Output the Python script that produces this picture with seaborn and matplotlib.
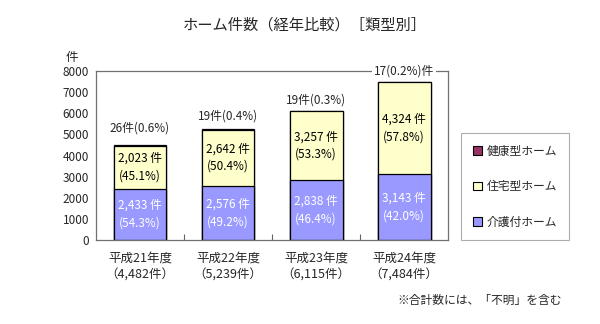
import matplotlib
matplotlib.use("Agg")
import matplotlib.pyplot as plt
import matplotlib.patches as mpatches
from matplotlib.ticker import FixedLocator
import numpy as np
import pandas as pd
import seaborn as sns

# Fiscal years and totals (totals include "unknown")
years = ["平成21年度", "平成22年度", "平成23年度", "平成24年度"]
totals = [4482, 5239, 6115, 7484]

# Home counts by type
kaigo = [2433, 2576, 2838, 3143]      # 介護付ホーム
jutaku = [2023, 2642, 3257, 4324]     # 住宅型ホーム
kenko = [26, 19, 19, 17]              # 健康型ホーム

# Shares of each type (%)
kaigo_pct = [54.3, 49.2, 46.4, 42.0]
jutaku_pct = [45.1, 50.4, 53.3, 57.8]
kenko_pct = [0.6, 0.4, 0.3, 0.2]

series_names = ["健康型ホーム", "住宅型ホーム", "介護付ホーム"]
series_colors = ["#993366", "#FFFFCC", "#9999FF"]

sns.set_theme(style="white")
plt.rcParams["font.family"] = ["Noto Sans CJK JP", "DejaVu Sans"]

df = pd.DataFrame({"year": years, "kaigo": kaigo, "jutaku": jutaku, "kenko": kenko})
df["mid"] = df["kaigo"] + df["jutaku"]
df["top"] = df["mid"] + df["kenko"]

fig = plt.figure(figsize=(6.0, 3.24), dpi=100)
ax = fig.add_axes([0.16, 0.259, 0.587, 0.522])

bar_kw = dict(width=0.6, edgecolor="black", linewidth=0.9, saturation=1,
              errorbar=None, ax=ax, order=years)
# Stacked bars drawn back-to-front as cumulative heights
sns.barplot(data=df, x="year", y="top", color=series_colors[0], **bar_kw)
sns.barplot(data=df, x="year", y="mid", color=series_colors[1], **bar_kw)
sns.barplot(data=df, x="year", y="kaigo", color=series_colors[2], **bar_kw)

ax.set_ylim(0, 8000)
ax.set_xlim(-0.5, 3.5)
ax.set_yticks(np.arange(0, 8001, 1000))
ax.set_yticklabels([str(v) for v in range(0, 8001, 1000)], fontsize=8.5)
ax.set_xticks(range(len(years)))
ax.set_xticklabels([f"{y}\n（{t:,}件）" for y, t in zip(years, totals)],
                   fontsize=9, linespacing=1.45)
ax.set_xlabel("")
ax.set_ylabel("")
ax.tick_params(axis="y", which="major", length=0, pad=5)
ax.tick_params(axis="x", which="major", length=0, pad=8)
ax.xaxis.set_minor_locator(FixedLocator([0.5, 1.5, 2.5]))
ax.tick_params(axis="x", which="minor", direction="in", length=4,
               width=0.8, color="#666666", bottom=True)

for side in ["left", "right", "top", "bottom"]:
    ax.spines[side].set_visible(True)
    ax.spines[side].set_color("#707070")
    ax.spines[side].set_linewidth(0.9)

# Segment labels
for i in range(len(years)):
    ax.text(i, kaigo[i] / 2, f"{kaigo[i]:,} 件\n({kaigo_pct[i]:.1f}%)",
            ha="center", va="center", color="white", fontsize=8.5, linespacing=1.45)
    ax.text(i, kaigo[i] + jutaku[i] / 2, f"{jutaku[i]:,} 件\n({jutaku_pct[i]:.1f}%)",
            ha="center", va="center", color="black", fontsize=8.5, linespacing=1.45)

# Labels for the small top segment
offsets = [8, 5, 3]
for i in range(3):
    ax.annotate(f"{kenko[i]}件({kenko_pct[i]:.1f}%)", (i, df["top"][i]),
                xytext=(0, offsets[i]), textcoords="offset points",
                ha="center", va="bottom", fontsize=8.5)
ax.text(3, 8000, f"{kenko[3]}({kenko_pct[3]:.1f}%)件", ha="center", va="center",
        fontsize=8.5, clip_on=False, zorder=5,
        bbox=dict(facecolor="white", edgecolor="none", pad=1.5))

# Legend
handles = [mpatches.Patch(facecolor=c, edgecolor="black", linewidth=0.8)
           for c in series_colors]
leg = fig.legend(handles, series_names, loc="upper left",
                 bbox_to_anchor=(461 / 600, 1 - 133 / 324), frameon=True,
                 fancybox=False, edgecolor="#999999", fontsize=8.5,
                 labelspacing=1.9, handlelength=0.75, handleheight=0.75,
                 handletextpad=0.4, borderpad=1.0, borderaxespad=0)
leg.get_frame().set_linewidth(0.8)

fig.text(305 / 600, 1 - 25 / 324, "ホーム件数（経年比較）［類型別］",
         ha="center", va="center", fontsize=11)
fig.text(72 / 600, 1 - 57 / 324, "件", ha="center", va="center", fontsize=9)
fig.text(562 / 600, 1 - 300 / 324, "※合計数には、「不明」を含む",
         ha="right", va="center", fontsize=8.5)

fig.savefig("out.png", dpi=100, facecolor="white")
